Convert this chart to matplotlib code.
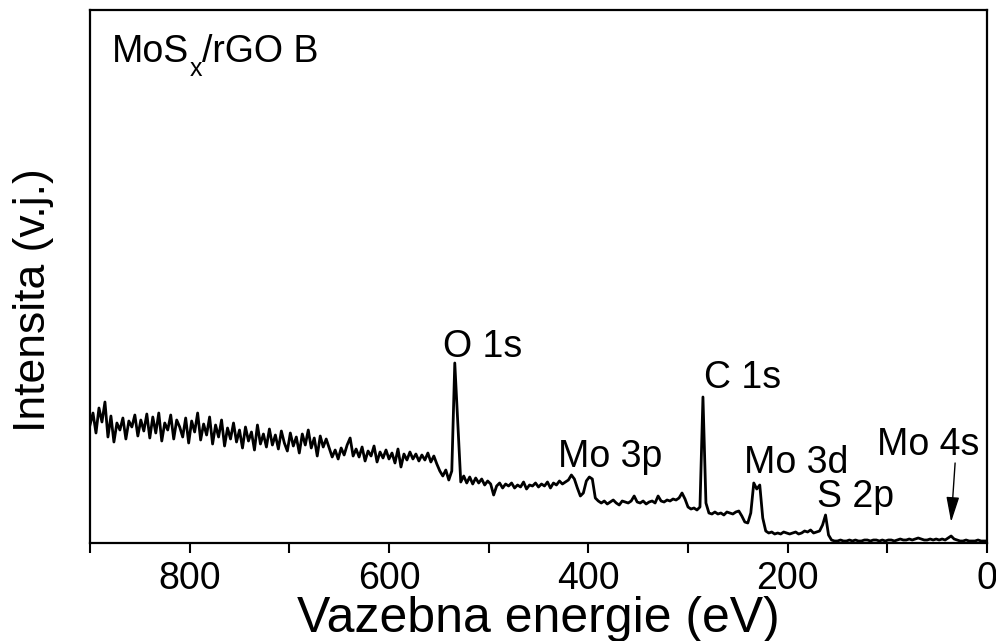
import numpy as np
import matplotlib
matplotlib.use("Agg")
import matplotlib.pyplot as plt

plt.rcParams['font.family'] = ['Liberation Sans', 'DejaVu Sans']

# Binding energy grid (eV), 900 -> 0 in 3 eV steps
energy = np.arange(900, -1, -3)

# Intensity (a.u.), in groups of 30 eV
intensity = [
    118, 130, 110, 135, 121, 141, 106, 127, 101, 120,   # 900-873
    113, 125, 104, 122, 116, 128, 107, 123, 112, 129,   # 870-843
    105, 126, 110, 130, 102, 120, 113, 128, 104, 123,   # 840-813
    116, 106, 125, 100, 122, 111, 130, 103, 119, 108,   # 810-783
    126, 99, 118, 106, 123, 97, 115, 104, 120, 101,     # 780-753
    113, 95, 116, 102, 111, 93, 118, 99, 109, 96,       # 750-723
    114, 98, 108, 94, 112, 100, 92, 110, 97, 106,       # 720-693
    90, 109, 98, 113, 95, 105, 87, 107, 96, 104,        # 690-663
    95, 86, 93, 84, 95, 88, 98, 105, 87, 94,            # 660-633
    86, 96, 82, 92, 87, 97, 81, 91, 85, 93,             # 630-603
    84, 90, 80, 94, 76, 89, 83, 91, 84, 89,             # 600-573
    82, 88, 83, 90, 81, 87, 79, 72, 67, 73,             # 570-543
    63, 72, 180, 120, 61, 67, 60, 66, 59, 65,           # 540-513
    60, 64, 58, 62, 59, 48, 57, 60, 55, 59,             # 510-483
    57, 60, 55, 58, 56, 61, 54, 58, 57, 60,             # 480-453
    56, 59, 57, 61, 55, 60, 58, 62, 59, 61,             # 450-423
    63, 68, 64, 55, 47, 50, 62, 66, 64, 45,             # 420-393
    42, 40, 42, 39, 41, 43, 40, 38, 42, 41,             # 390-363
    40, 42, 47, 41, 40, 42, 39, 41, 42, 40,             # 360-333
    47, 42, 41, 43, 42, 44, 43, 45, 50, 44,             # 330-303
    36, 34, 35, 33, 36, 146, 40, 30, 29, 31,            # 300-273
    29, 30, 28, 31, 30, 29, 31, 32, 27, 21,             # 270-243
    20, 30, 60, 54, 58, 25, 12, 10, 11, 9,              # 240-213
    10, 9, 11, 10, 9, 10, 11, 9, 10, 12,                # 210-183
    11, 13, 10, 11, 12, 18, 28, 8, 3, 2,                # 180-153
    2, 3, 2, 2, 3, 2, 3, 2, 2, 3,                       # 150-123
    3, 2, 3, 3, 2, 3, 2, 3, 3, 2,                       # 120-93
    3, 4, 3, 3, 4, 3, 4, 5, 4, 3,                       # 90-63
    3, 4, 3, 4, 3, 4, 3, 5, 7, 4,                       # 60-33
    3, 2, 2, 3, 2, 2, 2, 3, 2, 2,                       # 30-3
    2,                                                  # 0
]

# Peak labels: text, x (eV), y (a.u.)
peak_labels = ["O 1s", "C 1s", "Mo 3p", "Mo 3d", "S 2p", "Mo 4s"]
label_x = [506, 245, 378, 191, 132, 59]
label_y = [186, 155, 76, 70, 36, 88]

xticks = [800, 600, 400, 200, 0]
name_main, name_sub, name_rest = "MoS", "x", "/rGO B"

fig = plt.figure(figsize=(9.96, 6.41), dpi=100)
ax = fig.add_axes([90 / 996, 98 / 641, 897 / 996, 533 / 641])

ax.plot(energy, intensity, color='black', lw=2.0, solid_joinstyle='round')

ax.set_xlim(900, 0)
ax.set_ylim(0, 533)
ax.set_xticks(xticks)
ax.set_xticks(np.arange(900, -1, -100), minor=True)
ax.set_yticks([])
ax.tick_params(axis='x', which='both', direction='out', length=7, width=1.5,
               labelsize=27, pad=6)
for s in ax.spines.values():
    s.set_linewidth(1.6)

for t, x, y in zip(peak_labels, label_x, label_y):
    ax.text(x, y, t, fontsize=27, ha='center', va='baseline')

ax.annotate("", xy=(36, 21), xytext=(32, 80),
            arrowprops=dict(arrowstyle='-|>,head_length=0.7,head_width=0.18',
                            color='black', lw=1.0,
                            mutation_scale=22, shrinkA=0, shrinkB=0))

# Sample name with a low subscript
t1 = ax.text(0.0245, 0.902, name_main, transform=ax.transAxes, fontsize=27,
             ha='left', va='baseline')
t2 = ax.annotate(name_sub, xy=(1, 0), xycoords=t1, xytext=(0, -4),
                 textcoords='offset points', fontsize=18,
                 ha='left', va='baseline')
ax.annotate(name_rest, xy=(1, 0), xycoords=(t2, t1), xytext=(0.5, 0),
            textcoords='offset points', fontsize=27,
            ha='left', va='bottom')

fig.text(538 / 996, 9 / 641, "Vazebna energie (eV)", fontsize=36,
         ha='center', va='baseline')
fig.text(34 / 996, 0.532, "Intensita (v.j.)", fontsize=32, rotation=90,
         ha='center', va='center')

fig.savefig("out.png", dpi=100)
